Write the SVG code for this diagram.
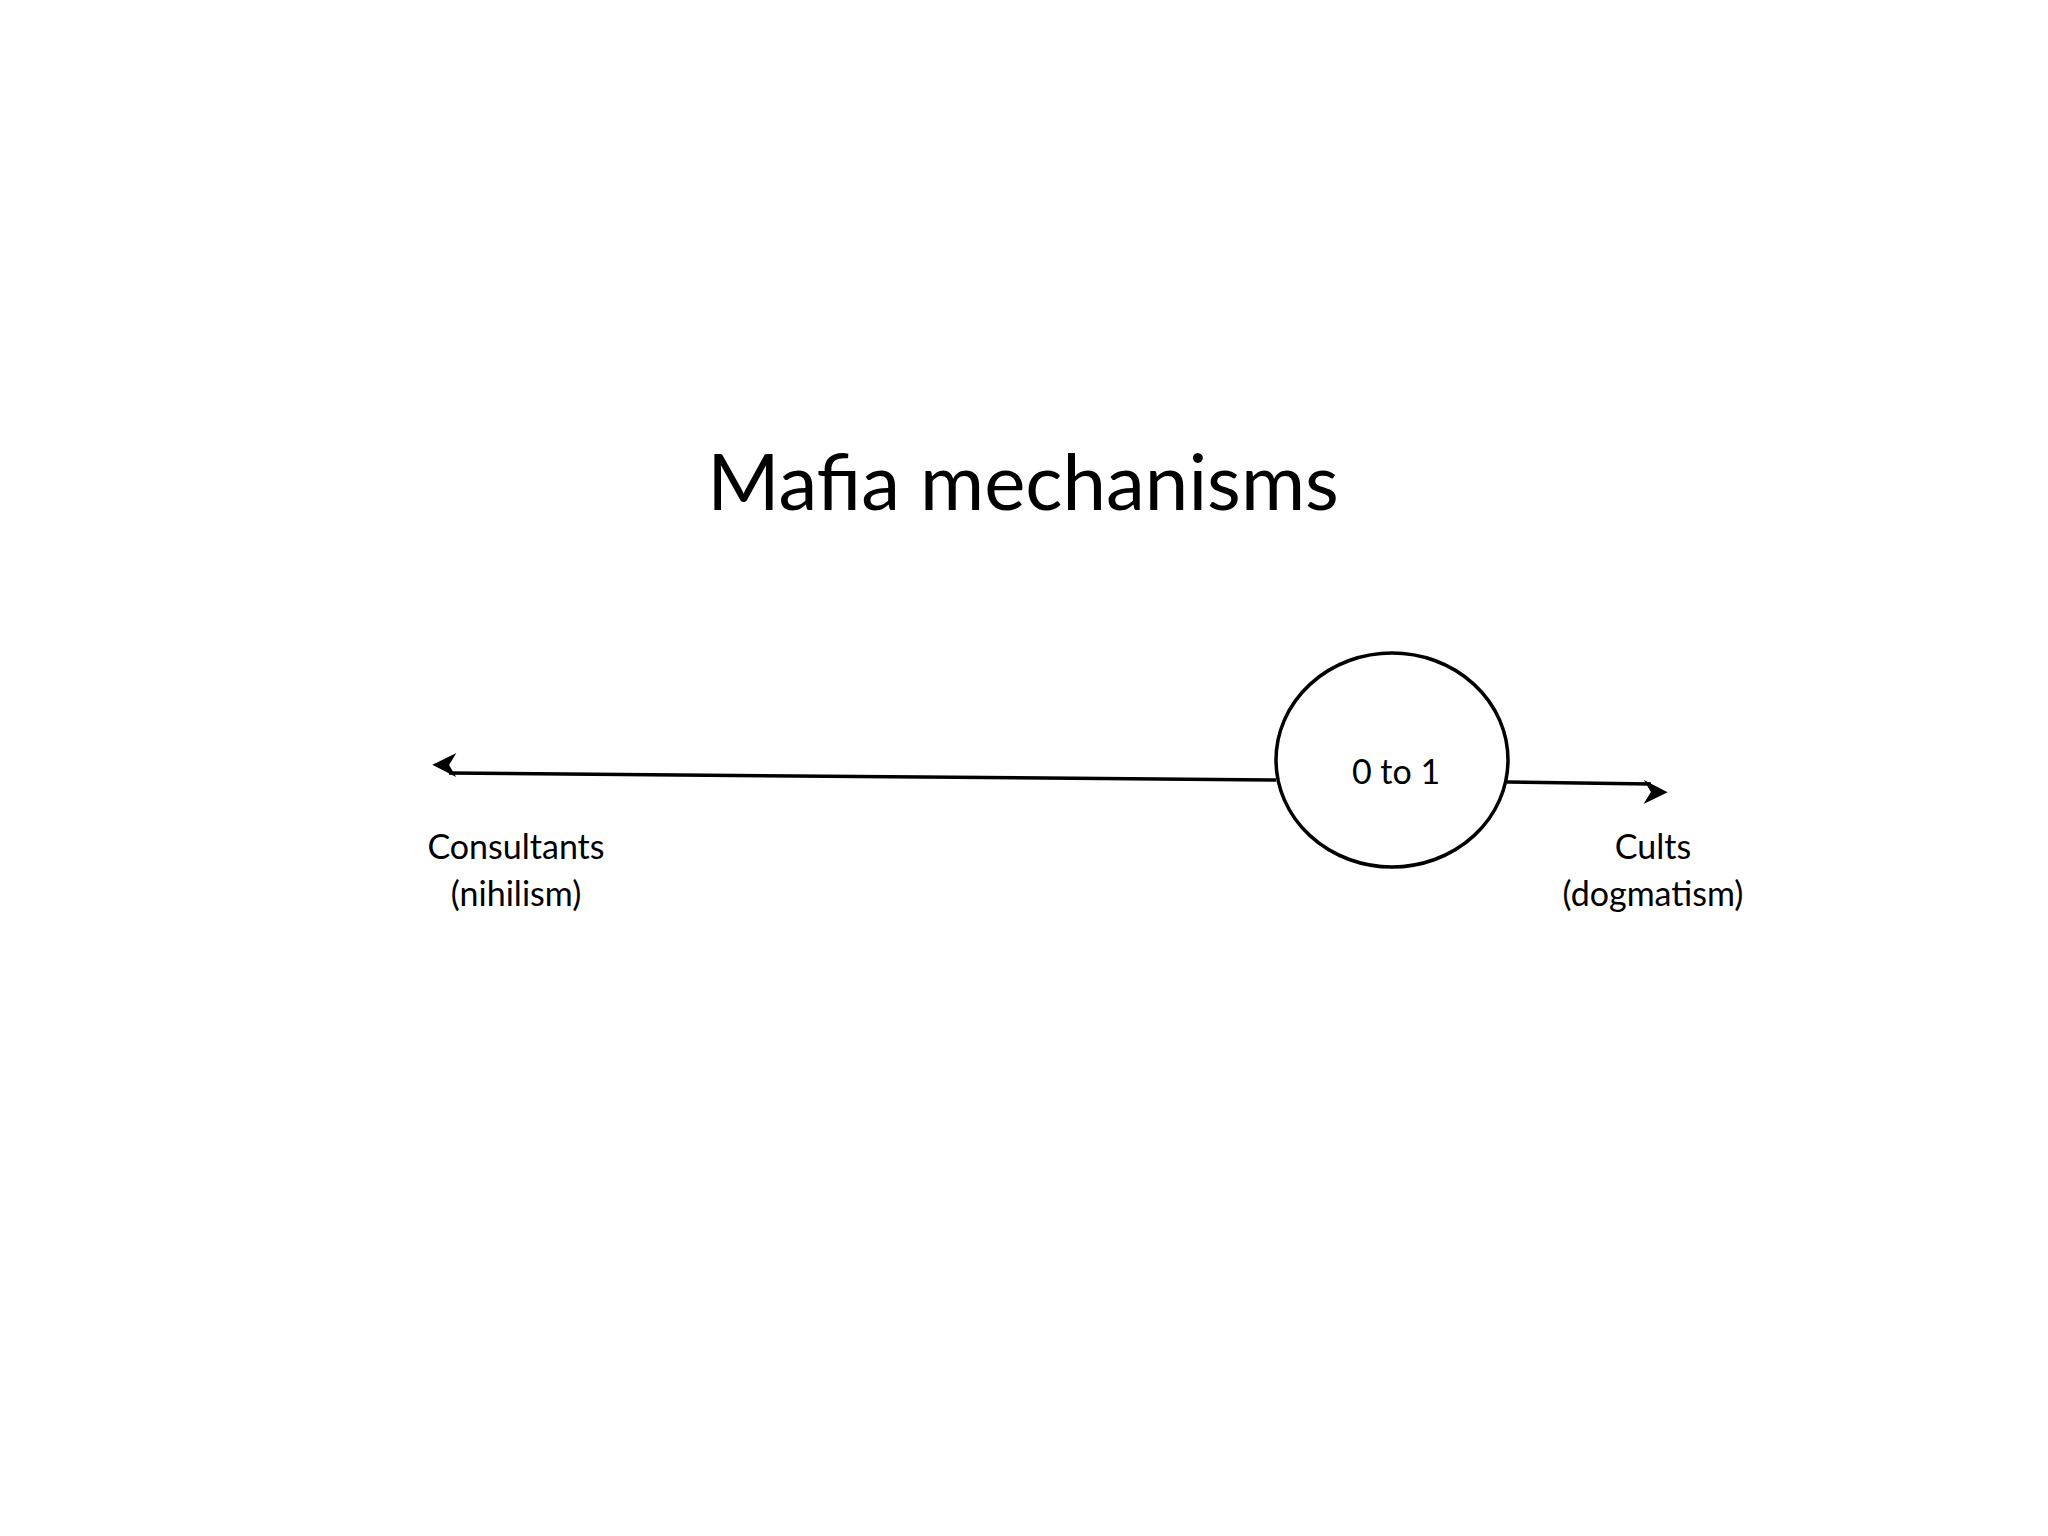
<svg xmlns="http://www.w3.org/2000/svg" width="2048" height="1536" viewBox="0 0 2048 1536">
<style>
text{font-family:Lato,"Liberation Sans",sans-serif;fill:#000;text-anchor:middle}
.lbl{font-size:34px}
.ln{stroke:#000;stroke-width:3.5;fill:none}
</style>
<defs>
<marker id="ah" viewBox="0 0 10 10" refX="9" refY="5" markerWidth="8" markerHeight="8" markerUnits="userSpaceOnUse" orient="auto" style="overflow:visible">
<path d="M0,0 L10,5 L0,10 L3,5 Z" fill="#000" transform="scale(3)"/>
</marker>
</defs>
<rect width="2048" height="1536" fill="#fff"/>
<text x="1023" y="510" style="font-size:78px">Mafia mechanisms</text>
<g id="connectors">
<line class="ln" x1="1276" y1="780" x2="449" y2="773" marker-end="url(#ah)"/>
<line class="ln" x1="1507" y1="782" x2="1651" y2="784" marker-end="url(#ah)"/>
</g>
<g id="center">
<ellipse cx="1392" cy="760" rx="116" ry="107" fill="#fff" stroke="#000" stroke-width="3.5"/>
<text class="lbl" x="1396" y="784">0 to 1</text>
</g>
<g id="consultants">
<text class="lbl" x="516" y="859">Consultants</text>
<text class="lbl" x="516" y="906">(nihilism)</text>
</g>
<g id="cults">
<text class="lbl" x="1653" y="859">Cults</text>
<text class="lbl" x="1653" y="906">(dogmatism)</text>
</g>
</svg>
